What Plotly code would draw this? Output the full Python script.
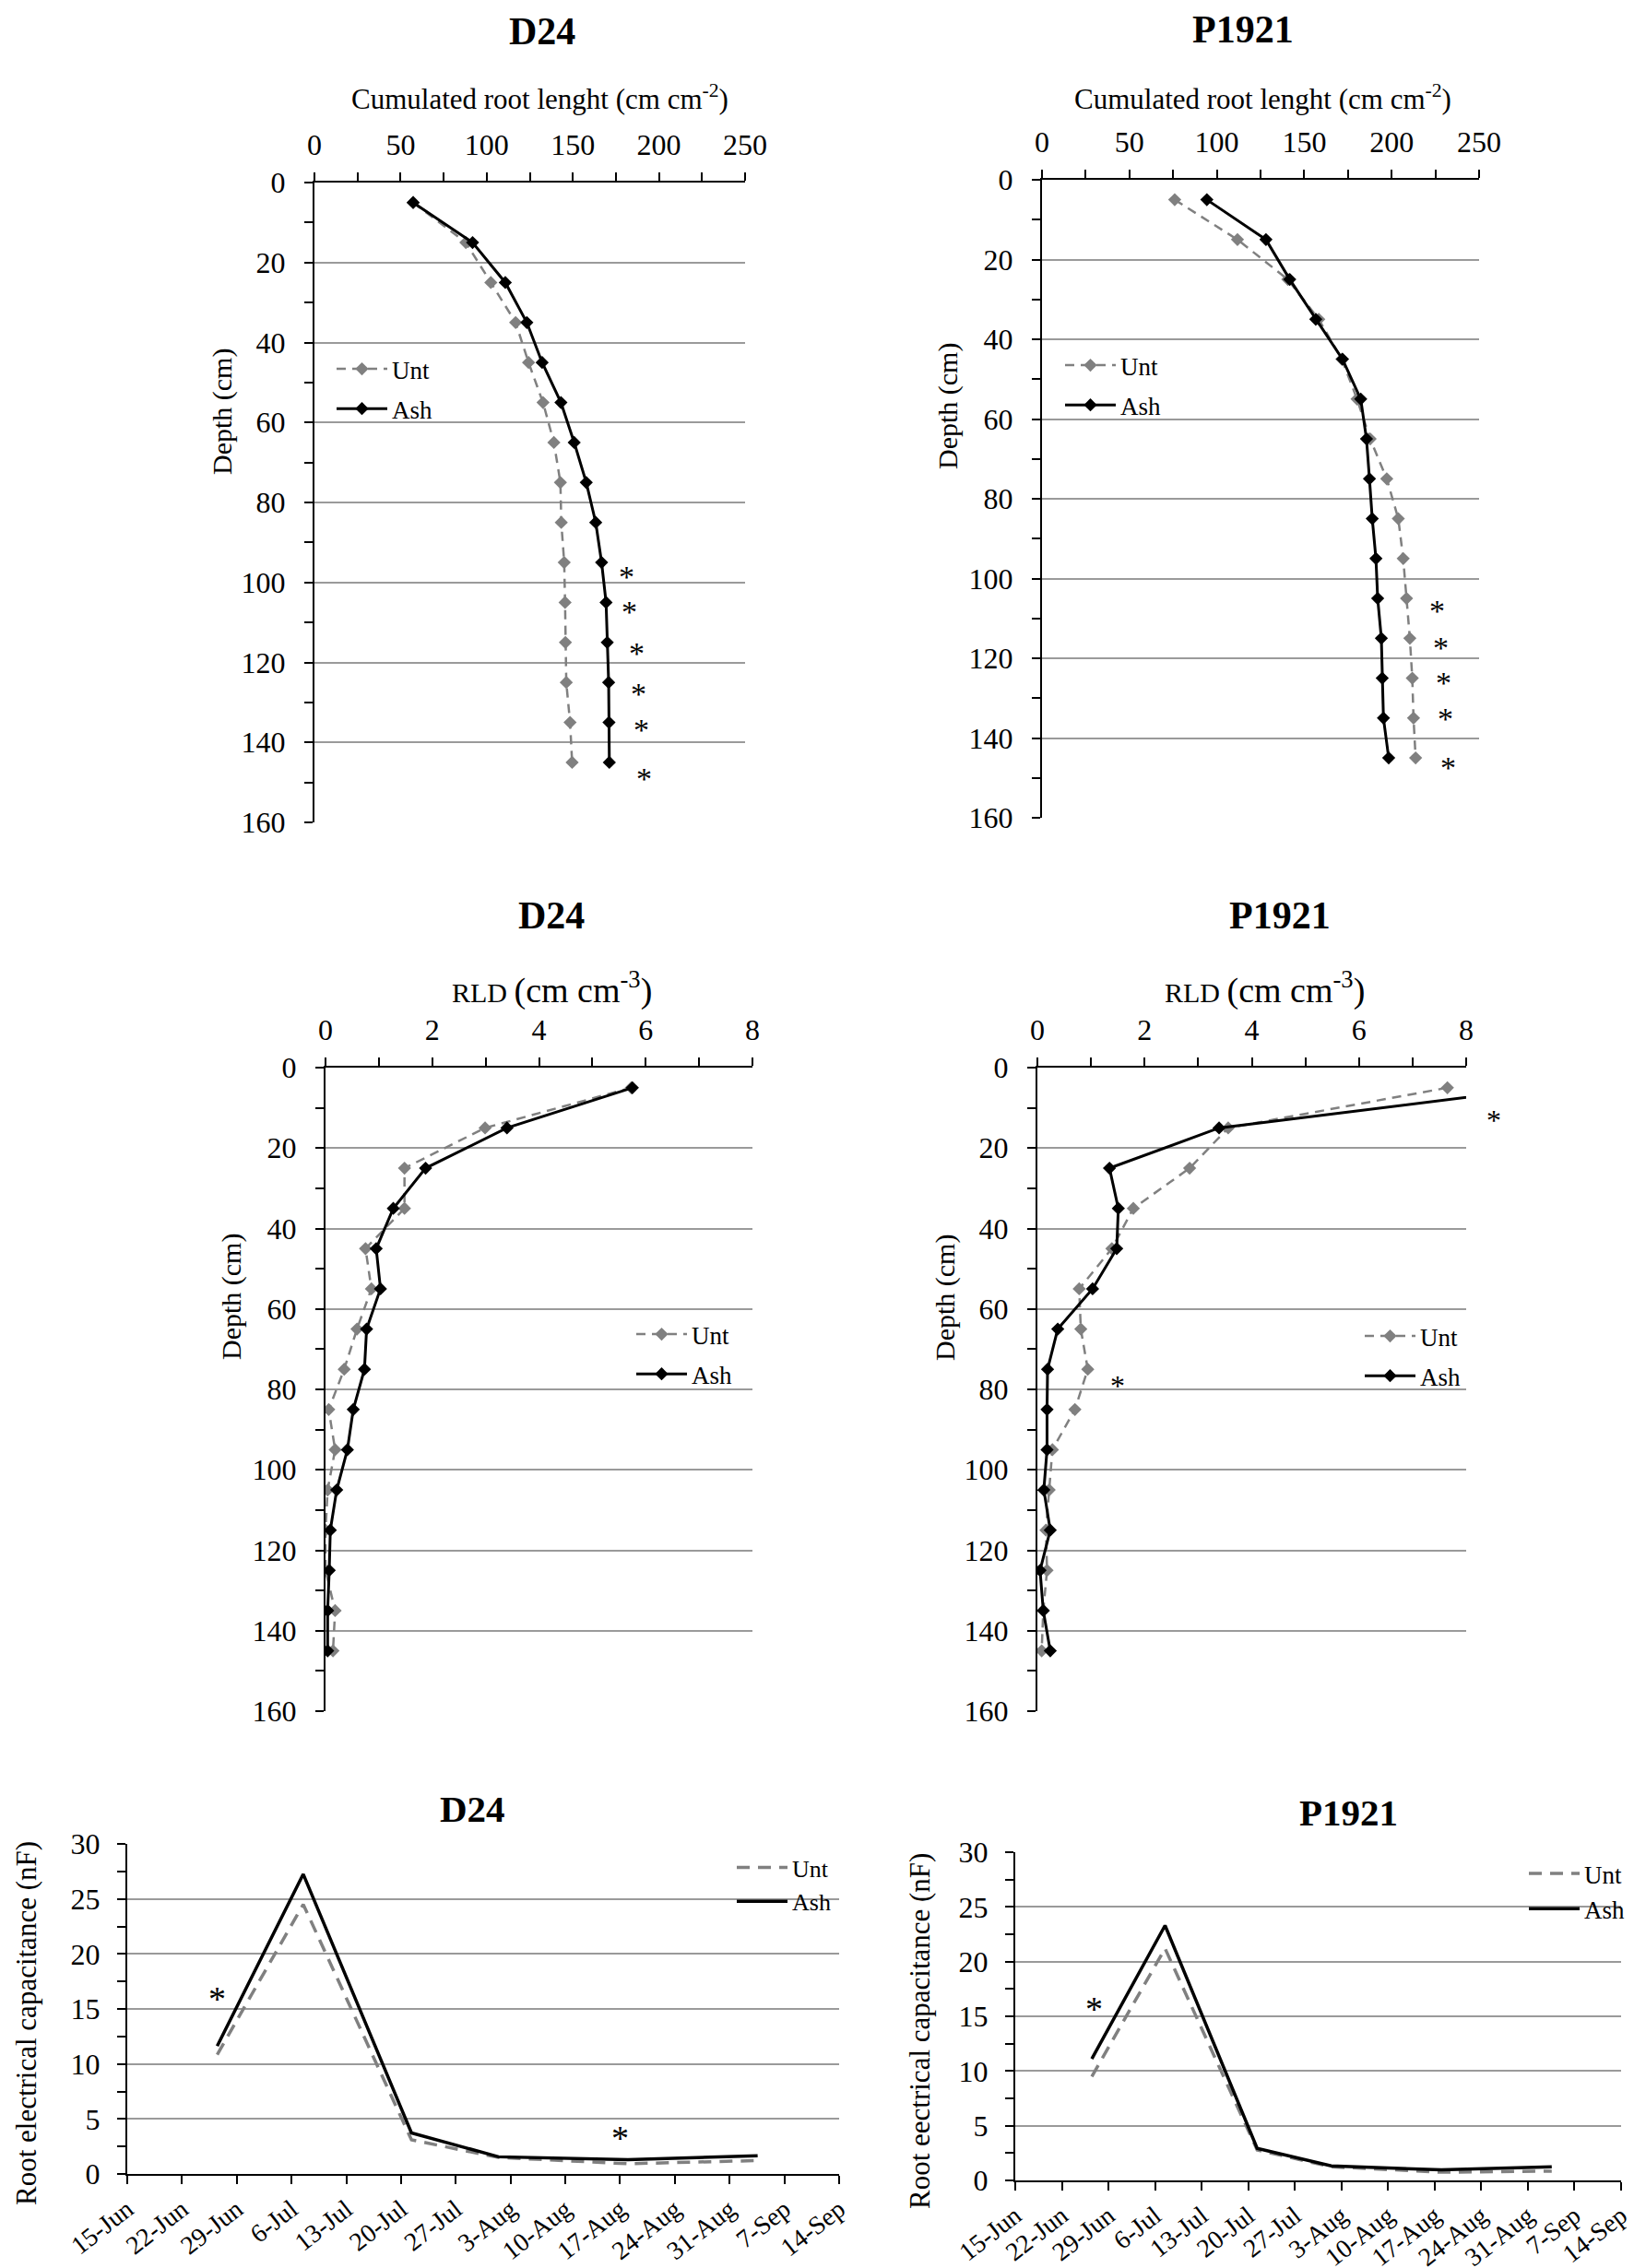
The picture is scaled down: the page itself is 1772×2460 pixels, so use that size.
import plotly.graph_objects as go

W, H = 1772, 2460
FONT = "Liberation Serif"

# depths (cm) for profile panels
depth = [5, 15, 25, 35, 45, 55, 65, 75, 85, 95, 105, 115, 125, 135, 145]

# cumulated root length (cm cm-2)
d24_cum_unt = [57.3, 87.9, 102.4, 116.8, 124.3, 132.7, 139.0, 142.8, 143.3, 145.0, 145.5, 145.7, 146.2, 148.4, 149.6]
d24_cum_ash = [57.3, 91.8, 110.8, 123.3, 132.2, 143.1, 150.8, 157.8, 163.3, 166.7, 169.3, 170.0, 170.8, 171.0, 171.2]
p19_cum_unt = [75.9, 111.8, 140.6, 158.3, 171.5, 180.2, 187.7, 197.2, 203.8, 206.6, 208.5, 210.4, 211.8, 212.5, 213.7]
p19_cum_ash = [94.3, 128.1, 141.7, 156.6, 171.9, 182.3, 185.6, 187.3, 188.9, 191.0, 192.0, 194.1, 194.6, 195.3, 198.3]

# RLD (cm cm-3)
d24_rld_unt = [5.73, 2.99, 1.48, 1.48, 0.75, 0.86, 0.59, 0.35, 0.06, 0.18, 0.04, 0.0, 0.0, 0.18, 0.14]
d24_rld_ash = [5.75, 3.40, 1.875, 1.27, 0.95, 1.03, 0.77, 0.73, 0.52, 0.41, 0.21, 0.09, 0.07, 0.04, 0.04]
p19_rld_unt = [7.65, 3.56, 2.84, 1.79, 1.39, 0.78, 0.81, 0.94, 0.70, 0.28, 0.22, 0.16, 0.18, 0.11, 0.08]
p19_rld_ash = [9.45, 3.39, 1.345, 1.51, 1.48, 1.03, 0.38, 0.19, 0.18, 0.18, 0.12, 0.24, 0.05, 0.11, 0.24]

# root electrical capacitance (nF)
dates = ["2013-06-26 12:00", "2013-07-07 12:00", "2013-07-21 08:00",
         "2013-08-01 11:00", "2013-08-18 00:00", "2013-09-03 14:00"]
d24_cap_unt = [10.85, 24.5, 3.10, 1.50, 0.93, 1.22]
d24_cap_ash = [11.63, 27.25, 3.73, 1.56, 1.30, 1.65]
p19_cap_unt = [9.5, 21.2, 2.79, 1.25, 0.75, 0.85]
p19_cap_ash = [11.11, 23.30, 2.93, 1.33, 0.96, 1.25]

# significance marks (x, y)
d24_cum_sig = [(181.4, 97.1), (182.6, 106.0), (187.1, 116.3), (188.3, 126.4), (189.8, 135.4), (191.5, 147.6)]
p19_cum_sig = [(226.2, 106.8), (228.3, 115.9), (229.7, 124.7), (230.7, 133.8), (232.5, 146.0)]
p19_rld_sig = [(8.52, 11.6), (1.50, 77.6)]
d24_cap_sig = [("2013-06-26 13:00", 16.4), ("2013-08-17 00:00", 3.74)]
p19_cap_sig = [("2013-06-26 19:00", 16.2)]


def px(v):
    return v / W


def py(v):
    return 1 - v / H


fig = go.Figure()

tick_font = dict(family=FONT, size=32, color="black")
grid = "#9a9a9a"


def add_pair(i, xs_unt, xs_ash, ys, lines_only=False):
    xa = "x" if i == 1 else f"x{i}"
    ya = "y" if i == 1 else f"y{i}"
    lg = "legend" if i == 1 else f"legend{i}"
    if lines_only:
        fig.add_trace(go.Scatter(x=ys, y=xs_unt, mode="lines", name="Unt",
                                 line=dict(color="#808080", width=3.5, dash="14px,9px"),
                                 xaxis=xa, yaxis=ya, legend=lg, legendgroup="u"))
        fig.add_trace(go.Scatter(x=ys, y=xs_ash, mode="lines", name="Ash",
                                 line=dict(color="black", width=3.5),
                                 xaxis=xa, yaxis=ya, legend=lg, legendgroup="a"))
    else:
        fig.add_trace(go.Scatter(x=xs_unt, y=ys, mode="lines+markers", name="Unt",
                                 line=dict(color="#808080", width=2.5, dash="10px,7px"),
                                 marker=dict(symbol="diamond", size=11, color="#808080"),
                                 xaxis=xa, yaxis=ya, legend=lg, legendgroup="u"))
        fig.add_trace(go.Scatter(x=xs_ash, y=ys, mode="lines+markers", name="Ash",
                                 line=dict(color="black", width=3),
                                 marker=dict(symbol="diamond", size=11, color="black"),
                                 xaxis=xa, yaxis=ya, legend=lg, legendgroup="a"))


add_pair(1, d24_cum_unt, d24_cum_ash, depth)
add_pair(2, p19_cum_unt, p19_cum_ash, depth)
add_pair(3, d24_rld_unt, d24_rld_ash, depth)
add_pair(4, p19_rld_unt, p19_rld_ash, depth)
add_pair(5, d24_cap_unt, d24_cap_ash, dates, lines_only=True)
add_pair(6, p19_cap_unt, p19_cap_ash, dates, lines_only=True)

# panel geometry in pixels: (left, right, top, bottom)
boxes = {
    1: (333, 800, 190, 884),
    2: (1122, 1596, 187, 879),
    3: (345, 808, 1150, 1848),
    4: (1117, 1582, 1150, 1848),
    5: (130, 902, 1992, 2350),
    6: (1093, 1750, 2001, 2357),
}

layout = dict(width=W, height=H, margin=dict(l=0, r=0, t=0, b=0, autoexpand=False),
              template="none", paper_bgcolor="white", plot_bgcolor="white",
              font=dict(family=FONT, color="black"), showlegend=True)

for i, (l, r, t, b) in boxes.items():
    xk = "xaxis" if i == 1 else f"xaxis{i}"
    yk = "yaxis" if i == 1 else f"yaxis{i}"
    ya = "y" if i == 1 else f"y{i}"
    xa = "x" if i == 1 else f"x{i}"
    common = dict(showline=True, linecolor="black", linewidth=2, ticks="outside",
                  ticklen=9, tickwidth=1.5, tickcolor="black", tickfont=tick_font,
                  zeroline=False, automargin=False)
    if i <= 4:
        xr = [0, 250] if i <= 2 else [0, 8]
        dt = 50 if i <= 2 else 2
        layout[xk] = dict(common, domain=[px(l), px(r)], anchor=ya, side="top",
                          range=xr, dtick=dt, showgrid=False, ticklabelstandoff=6,
                          minor=dict(dtick=dt / 2, ticks="outside", ticklen=9,
                                     tickwidth=1.5, tickcolor="black", showgrid=False))
        layout[yk] = dict(common, domain=[py(b), py(t)], anchor=xa, range=[160, 0],
                          dtick=20, showgrid=True, gridcolor=grid, gridwidth=1.5,
                          ticklabelstandoff=14,
                          minor=dict(dtick=10, ticks="outside", ticklen=9,
                                     tickwidth=1.5, tickcolor="black", showgrid=False))
    else:
        layout[xk] = dict(common, domain=[px(l), px(r)], anchor=ya, type="date",
                          range=["2013-06-15", "2013-09-14"], tick0="2013-06-15",
                          dtick=7 * 86400000, tickformat="%-d-%b", tickangle=-38,
                          showgrid=False, tickfont=dict(family=FONT, size=28, color="black"))
        layout[yk] = dict(common, domain=[py(b), py(t)], anchor=xa, range=[0, 30],
                          dtick=5, showgrid=True, gridcolor=grid, gridwidth=1.5,
                          ticklabelstandoff=12,
                          minor=dict(dtick=2.5, ticks="outside", ticklen=9,
                                     tickwidth=1.5, tickcolor="black", showgrid=False))

# legends: (left px of symbol, top px, font size)
leg_pos = {1: (352, 368, 27), 2: (1142, 364, 27), 3: (677, 1415, 27),
           4: (1467, 1417, 27), 5: (786, 1994, 26), 6: (1645, 2000, 27)}
for i, (lx, ty, fs) in leg_pos.items():
    k = "legend" if i == 1 else f"legend{i}"
    layout[k] = dict(x=px(lx), y=py(ty), xanchor="left", yanchor="top",
                     bgcolor="rgba(0,0,0,0)", font=dict(family=FONT, size=fs, color="black"),
                     tracegroupgap=5 if i <= 4 else 0, itemwidth=55)

fig.update_layout(**layout)

ann = []


def text(x, y, s, size, bold=False, angle=0):
    ann.append(dict(x=px(x), y=py(y), xref="paper", yref="paper", text=f"<b>{s}</b>" if bold else s,
                    showarrow=False, textangle=angle, xanchor="center", yanchor="middle",
                    font=dict(family=FONT, size=size, color="black")))


# panel titles
text(580, 26, "D24", 42, bold=True)
text(1340, 24, "P1921", 42, bold=True)
text(590, 985, "D24", 42, bold=True)
text(1380, 985, "P1921", 42, bold=True)
text(505, 1954, "D24", 41, bold=True)
text(1454, 1958, "P1921", 41, bold=True)

# axis titles
cum_t = "Cumulated root lenght (cm cm<sup>-2</sup>)"
rld_t = "RLD <span style='font-size:38px'>(cm cm<sup>-3</sup>)</span>"
text(577, 98, cum_t, 31)
text(1361, 98, cum_t, 31)
text(590, 1063, rld_t, 30)
text(1363, 1063, rld_t, 30)
text(233, 438, "Depth (cm)", 30, angle=-90)
text(1020, 433, "Depth (cm)", 30, angle=-90)
text(243, 1399, "Depth (cm)", 30, angle=-90)
text(1017, 1399, "Depth (cm)", 30, angle=-90)
text(20, 2187, "Root electrical capacitance (nF)", 31, angle=-90)
text(989, 2195, "Root eectrical capacitance (nF)", 31, angle=-90)


def stars(i, pts, size, xrange=None):
    xa = "x" if i == 1 else f"x{i}"
    ya = "y" if i == 1 else f"y{i}"
    for x, y in pts:
        if xrange is not None and not (xrange[0] <= x <= xrange[1]):
            xr, xv = f"{xa} domain", (x - xrange[0]) / (xrange[1] - xrange[0])
        else:
            xr, xv = xa, x
        ann.append(dict(x=xv, y=y, xref=xr, yref=ya, text="*", showarrow=False,
                        xanchor="center", yanchor="middle", yshift=-6,
                        font=dict(family=FONT, size=size, color="black")))


stars(1, d24_cum_sig, 34)
stars(2, p19_cum_sig, 34)
stars(4, p19_rld_sig, 32, xrange=[0, 8])
stars(5, d24_cap_sig, 38)
stars(6, p19_cap_sig, 38)

fig.update_layout(annotations=ann)

fig.write_html("out.html")
